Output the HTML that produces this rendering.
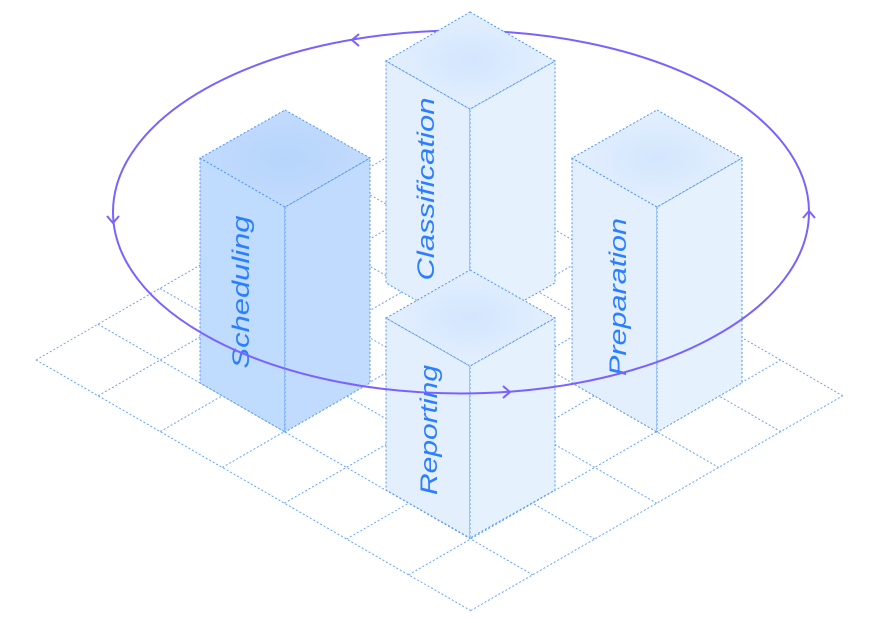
<!DOCTYPE html>
<html><head><meta charset="utf-8"><style>
html,body{margin:0;padding:0;background:#fff;}
svg{display:block;}
text{font-family:"Liberation Sans",sans-serif;font-style:italic;font-size:24px;fill:#2b7fff;}
</style></head><body>
<svg width="880" height="623" viewBox="0 0 880 623" xmlns="http://www.w3.org/2000/svg">
<defs>
<radialGradient id="tg" cx="50%" cy="50%" r="60%"><stop offset="0" stop-color="#d3e6fd"/><stop offset="1" stop-color="#e6f1fe"/></radialGradient>
<radialGradient id="tgs" cx="50%" cy="50%" r="60%"><stop offset="0" stop-color="#b6d5fc"/><stop offset="1" stop-color="#c4dcfd"/></radialGradient>
</defs>
<g stroke="#4f94f5" stroke-width="1" stroke-dasharray="2 2" fill="none" opacity="0.85">
<line x1="36" y1="360" x2="408" y2="145.2"/>
<line x1="98.1" y1="395.8" x2="470.1" y2="181"/>
<line x1="160.2" y1="431.6" x2="532.2" y2="216.8"/>
<line x1="222.3" y1="467.4" x2="594.3" y2="252.6"/>
<line x1="284.4" y1="503.2" x2="656.4" y2="288.4"/>
<line x1="346.5" y1="539" x2="718.5" y2="324.2"/>
<line x1="408.6" y1="574.8" x2="780.6" y2="360"/>
<line x1="470.7" y1="610.6" x2="842.7" y2="395.8"/>
<line x1="36" y1="360" x2="470.7" y2="610.6"/>
<line x1="98" y1="324.2" x2="532.7" y2="574.8"/>
<line x1="160" y1="288.4" x2="594.7" y2="539"/>
<line x1="222" y1="252.6" x2="656.7" y2="503.2"/>
<line x1="284" y1="216.8" x2="718.7" y2="467.4"/>
<line x1="346" y1="181" x2="780.7" y2="431.6"/>
<line x1="408" y1="145.2" x2="842.7" y2="395.8"/>
</g>
<path d="M113 212 A348 181.5 0 0 1 809 212" stroke="#7b61ff" stroke-width="2" fill="none"/>
<polyline points="359,34 352,40 359,46" stroke="#7b61ff" stroke-width="2" fill="none"/>
<g stroke="#4f94f5" stroke-width="1" stroke-dasharray="2 2">
<polygon points="386,61 470,109 470,331 386,283" fill="#e4effd"/>
<polygon points="470,109 555,61 555,283 470,331" fill="#e6f1fe"/>
<polygon points="470,12 555,61 470,109 386,61" fill="url(#tg)"/>
<polygon points="200,158 285,207 285,432 200,383" fill="#bfdbfe"/>
<polygon points="285,207 370,158 370,383 285,432" fill="#c0dbfd"/>
<polygon points="285,110 370,158 285,207 200,158" fill="url(#tgs)"/>
<polygon points="572,158 657,207 657,432 572,383" fill="#e4effd"/>
<polygon points="657,207 742,158 742,383 657,432" fill="#e6f1fe"/>
<polygon points="657,110 742,158 657,207 572,158" fill="url(#tg)"/>
<polygon points="386,318 470,366 470,538 386,490" fill="#e4effd"/>
<polygon points="470,366 555,318 555,490 470,538" fill="#e6f1fe"/>
<polygon points="470,270 555,318 470,366 386,318" fill="url(#tg)"/>
</g>
<text transform="translate(249,292) rotate(-90)" text-anchor="middle" textLength="153" lengthAdjust="spacingAndGlyphs">Scheduling</text>
<text transform="translate(434,189) rotate(-90)" text-anchor="middle" textLength="183" lengthAdjust="spacingAndGlyphs">Classification</text>
<text transform="translate(626,297) rotate(-90)" text-anchor="middle" textLength="158" lengthAdjust="spacingAndGlyphs">Preparation</text>
<text transform="translate(437,430) rotate(-90)" text-anchor="middle" textLength="130" lengthAdjust="spacingAndGlyphs">Reporting</text>
<path d="M113 212 A348 181.5 0 0 0 809 212" stroke="#7b61ff" stroke-width="2" fill="none"/>
<polyline points="107,216 113,223 119,216" stroke="#7b61ff" stroke-width="2" fill="none"/>
<polyline points="503,386 510,392 503,398" stroke="#7b61ff" stroke-width="2" fill="none"/>
<polyline points="803,218 809,211 815,218" stroke="#7b61ff" stroke-width="2" fill="none"/>
</svg>
</body></html>
